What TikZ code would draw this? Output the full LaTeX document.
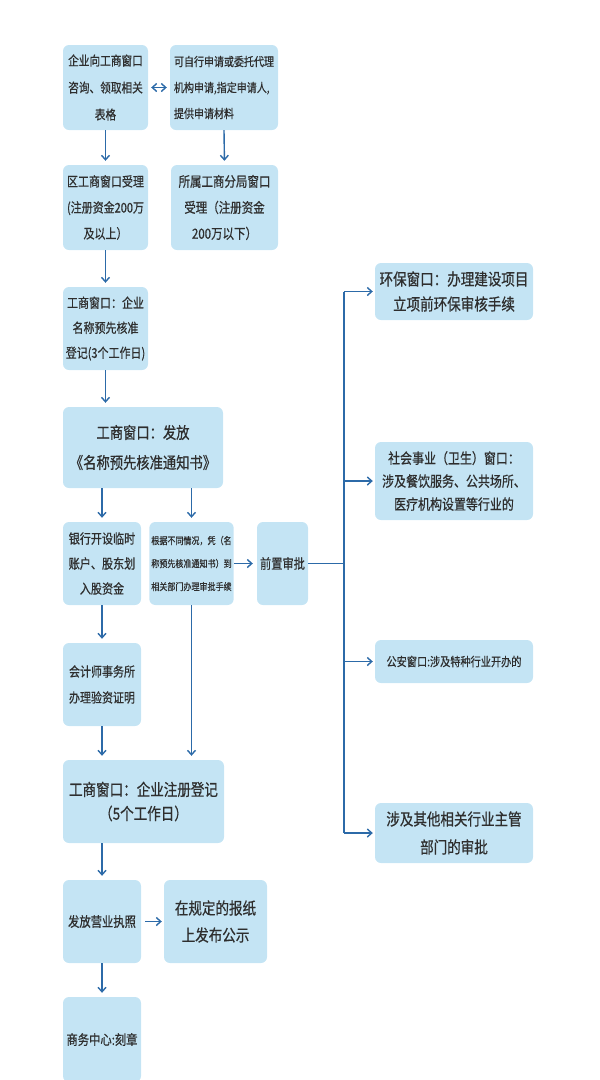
\documentclass[tikz,border=0pt]{standalone}
\usepackage{fontspec}
\newfontfamily\cjk[FakeStretch=0.82,FakeBold=0.6]{Noto Sans CJK SC}
\usetikzlibrary{arrows.meta,calc}
\definecolor{boxfill}{HTML}{C4E4F4}
\definecolor{arrowblue}{HTML}{2C6AA8}
\definecolor{txt}{HTML}{2E2E2E}
\newcommand{\fs}[2]{\cjk\fontsize{#1}{#2}\selectfont}
\tikzset{
  box/.style={fill=boxfill, draw=none, rounded corners=6pt, align=center, text=txt, inner sep=2pt},
  arr/.style={draw=arrowblue, line width=1.4pt, -{Straight Barb[length=4.5pt,width=8pt,line width=1.4pt]}, shorten >=4pt},
  biarr/.style={draw=arrowblue, line width=1.4pt, {Straight Barb[length=4.5pt,width=8pt,line width=1.4pt]}-{Straight Barb[length=4.5pt,width=8pt,line width=1.4pt]}, shorten >=3pt, shorten <=3pt},
  ln/.style={draw=arrowblue, line width=1.4pt}
}
\begin{document}
\begin{tikzpicture}[x=1pt,y=-1pt]
\useasboundingbox (0,0) rectangle (600,1080);
\clip (0,0) rectangle (600,1080);
% left column
\node[box, minimum width=85pt, minimum height=85pt, font=\fs{13}{27}] (b1) at (105.5,87.5) {企业向工商窗口\\咨询、领取相关\\表格};
\node[box, minimum width=108pt, minimum height=85pt, font=\fs{12.2}{26}, align=left] (b2) at (224,87.5) {可自行申请或委托代理\\机构申请,指定申请人,\\提供申请材料};
\node[box, minimum width=85pt, minimum height=85pt, font=\fs{13.4}{26}] (b3) at (105.5,207.5) {区工商窗口受理\\(注册资金200万\\及以上）};
\node[box, minimum width=107pt, minimum height=85pt, font=\fs{14}{26}] (b4) at (224.5,207.5) {所属工商分局窗口\\受理（注册资金\\200万以下）};
\node[box, minimum width=85pt, minimum height=83pt, font=\fs{13.4}{25}] (b5) at (105.5,328.5) {工商窗口：企业\\名称预先核准\\登记(3个工作日)};
\node[box, minimum width=160pt, minimum height=81pt, font=\fs{16.2}{30}] (b6) at (143,447.5) {工商窗口：发放\\《名称预先核准通知书》};
\node[box, minimum width=78pt, minimum height=83pt, font=\fs{13.5}{25}] (b7) at (102,563.5) {银行开设临时\\账户、股东划\\入股资金};
\node[box, minimum width=83pt, minimum height=83pt, font=\fs{9.8}{23}] (b8) at (191.5,563.5) {根据不同情况，凭（名\\称预先核准通知书）到\\相关部门办理审批手续};
\node[box, minimum width=51pt, minimum height=83pt, font=\fs{13.7}{25}] (b9) at (282.5,563.5) {前置审批};
\node[box, minimum width=78pt, minimum height=83pt, font=\fs{13.4}{26}] (b14) at (102,684.5) {会计师事务所\\办理验资证明};
\node[box, minimum width=161pt, minimum height=83pt, font=\fs{16.5}{24}] (b15) at (143.5,801.5) {工商窗口：企业注册登记\\（5个工作日）};
\node[box, minimum width=78pt, minimum height=83pt, font=\fs{13.8}{26}] (b16) at (102,921.5) {发放营业执照};
\node[box, minimum width=103pt, minimum height=83pt, font=\fs{16.5}{27}] (b17) at (215.5,921.5) {在规定的报纸\\上发布公示};
\node[box, minimum width=78pt, minimum height=85pt, font=\fs{13.8}{26}] (b18) at (102,1039.5) {商务中心:刻章};
% right column
\node[box, minimum width=158pt, minimum height=57pt, font=\fs{16.5}{25}] (b10) at (454,291.5) {环保窗口：办理建设项目\\立项前环保审核手续};
\node[box, minimum width=158pt, minimum height=78pt, font=\fs{14.6}{23}] (b11) at (454,481) {社会事业（卫生）窗口：\\涉及餐饮服务、公共场所、\\医疗机构设置等行业的};
\node[box, minimum width=158pt, minimum height=43pt, font=\fs{12.4}{24}] (b12) at (454,661.5) {公安窗口:涉及特种行业开办的};
\node[box, minimum width=158pt, minimum height=60pt, font=\fs{16.5}{28}] (b13) at (454,833) {涉及其他相关行业主管\\部门的审批};
% connectors
\draw[biarr] (b1.east) -- (b2.west);
\draw[arr] (b1.south) -- (b3.north);
\draw[arr] (b2.south) -- (b4.north);
\draw[arr] (b3.south) -- (b5.north);
\draw[arr] (b5.south) -- (b5.south |- b6.north);
\draw[arr] (b7.north |- b6.south) -- (b7.north);
\draw[arr] (b8.north |- b6.south) -- (b8.north);
\draw[arr] (b8.east) -- (b9.west);
\coordinate (trunk) at (344,563.5);
\draw[ln] (b9.east) -- (trunk);
\draw[ln] (trunk |- b10.west) -- (trunk |- b13.west);
\draw[arr, shorten >=2pt] (trunk |- b10.west) -- (b10.west);
\draw[arr, shorten >=2pt] (trunk |- b11.west) -- (b11.west);
\draw[arr, shorten >=2pt] (trunk |- b12.west) -- (b12.west);
\draw[arr, shorten >=2pt] (trunk |- b13.west) -- (b13.west);
\draw[arr] (b7.south) -- (b14.north);
\draw[arr] (b14.south) -- (b14.south |- b15.north);
\draw[arr] (b8.south) -- (b8.south |- b15.north);
\draw[arr] (b16.north |- b15.south) -- (b16.north);
\draw[arr, shorten <=4pt, shorten >=2pt] (b16.east) -- (b17.west);
\draw[arr] (b16.south) -- (b18.north);
\end{tikzpicture}
\end{document}
